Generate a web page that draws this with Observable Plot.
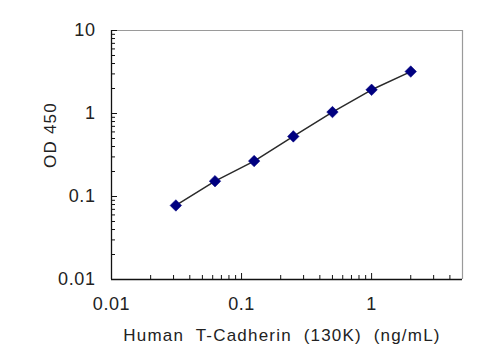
<!DOCTYPE html>
<html>
<head>
<meta charset="utf-8">
<script src="https://cdn.jsdelivr.net/npm/d3@7"></script>
<script src="https://cdn.jsdelivr.net/npm/@observablehq/plot@0.6"></script>
<style>
  html, body { margin: 0; padding: 0; background: #fff; }
  g[aria-label="x-axis tick label"] text, g[aria-label="y-axis tick label"] text { letter-spacing: 0.6px; }
  g.title-text text { letter-spacing: 1.2px; }
</style>
</head>
<body>
<script>
// Data (concentration in ng/mL vs OD 450)
const concentration = [0.03125, 0.0625, 0.125, 0.25, 0.5, 1, 2];
const od450 = [0.078, 0.153, 0.267, 0.53, 1.04, 1.93, 3.2];

// Axis ticks
const xMajorTicks = [0.01, 0.1, 1];
const xMajorLabels = ["0.01", "0.1", "1"];
const xMinorTicks = [0.02, 0.03, 0.04, 0.05, 0.06, 0.07, 0.08, 0.09,
                     0.2, 0.3, 0.4, 0.5, 0.6, 0.7, 0.8, 0.9, 2, 3, 4];
const yMajorTicks = [0.01, 0.1, 1, 10];
const yMajorLabels = ["0.01", "0.1", "1", "10"];
const yMinorTicks = [0.02, 0.03, 0.04, 0.05, 0.06, 0.07, 0.08, 0.09,
                     0.2, 0.3, 0.4, 0.5, 0.6, 0.7, 0.8, 0.9,
                     2, 3, 4, 5, 6, 7, 8, 9];
const xDomain = [0.01, 5];
const yDomain = [0.01, 10];
const xTitle = "Human\u00a0 T-Cadherin\u00a0 (130K)\u00a0 (ng/mL)";
const yTitle = "OD 450";

const points = concentration.map((c, i) => ({x: c, y: od450[i]}));
const fmt = (ticks, labels) => (d) => labels[ticks.indexOf(d)] ?? "";

const chart = Plot.plot({
  width: 500,
  height: 360,
  marginLeft: 111,
  marginRight: 38,
  marginTop: 30,
  marginBottom: 81,
  style: {fontFamily: "Arial, 'Liberation Sans', sans-serif", fontSize: "18px", color: "#222", background: "#fff"},
  x: {type: "log", domain: xDomain, axis: null},
  y: {type: "log", domain: yDomain, axis: null},
  marks: [
    Plot.ruleY([yDomain[1]], {stroke: "#9a9a9a", strokeWidth: 1.2}),
    Plot.ruleX([xDomain[1]], {stroke: "#9a9a9a", strokeWidth: 1.2}),
    Plot.axisX({ticks: xMinorTicks, tickSize: -4, tickFormat: () => "", stroke: "#111", label: null}),
    Plot.axisX({ticks: xMajorTicks, tickSize: -6, tickPadding: 24, tickFormat: fmt(xMajorTicks, xMajorLabels), stroke: "#111", fill: "#222", label: null}),
    Plot.axisY({ticks: yMinorTicks, tickSize: -4, tickFormat: () => "", stroke: "#111", label: null}),
    Plot.axisY({ticks: yMajorTicks, tickSize: -6, tickPadding: 22, tickFormat: fmt(yMajorTicks, yMajorLabels), stroke: "#111", fill: "#222", label: null}),
    Plot.ruleX([xDomain[0]], {stroke: "#111", strokeWidth: 1.3}),
    Plot.ruleY([yDomain[0]], {stroke: "#111", strokeWidth: 1.3}),
    Plot.line(points, {x: "x", y: "y", stroke: "#2a2a2a", strokeWidth: 1.5}),
    Plot.dot(points, {x: "x", y: "y", symbol: "diamond2", r: 5.2, fill: "#000080", stroke: "#000080", strokeWidth: 0.5}),
    Plot.text([xTitle], {frameAnchor: "bottom", textAnchor: "middle", lineAnchor: "middle", dx: -5, dy: 56, fontSize: 17, fill: "#222", className: "title-text"}),
    Plot.text([yTitle], {frameAnchor: "left", textAnchor: "middle", lineAnchor: "middle", dx: -61, dy: -20, rotate: -90, fontSize: 17, fill: "#222", className: "title-text"})
  ]
});
document.body.appendChild(chart);
</script>
</body>
</html>
